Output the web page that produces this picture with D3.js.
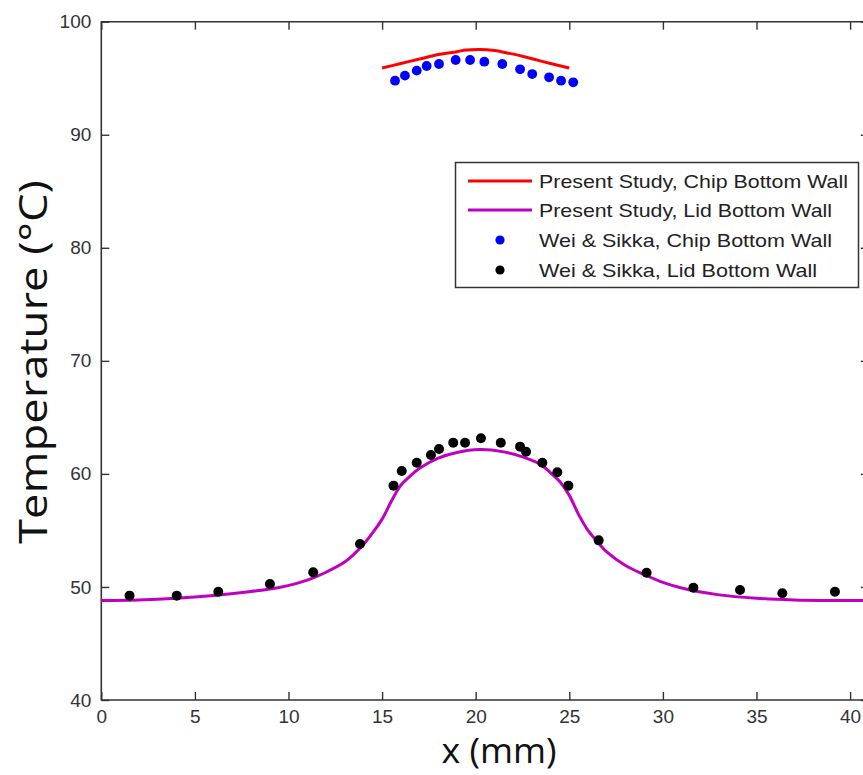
<!DOCTYPE html>
<html><head><meta charset="utf-8">
<script src="https://cdnjs.cloudflare.com/ajax/libs/d3/7.8.5/d3.min.js"></script>
<style>body{margin:0;background:#fff;} svg{display:block;}</style>
</head><body>
<svg id="c" width="863" height="775"></svg>
<script>
// ---- data ----
const xTicks = [0, 5, 10, 15, 20, 25, 30, 35, 40];
const yTicks = [40, 50, 60, 70, 80, 90, 100];

const chipLineX = [15, 16, 17, 18, 19, 19.5, 20.2, 21, 21.8, 22.5, 23.3, 24, 25];
const chipLineT = [95.9, 96.3, 96.7, 97.1, 97.35, 97.5, 97.55, 97.45, 97.2, 96.95, 96.6, 96.3, 95.9];

const lidLineX = [0, 2, 4, 6, 8, 9.5, 11, 12, 13, 13.5, 14, 14.5, 15, 15.5, 16, 16.5, 17, 18, 19, 20.2, 21.5, 22.5, 23.5, 24, 24.5, 25, 25.5, 26, 26.5, 27, 28, 29, 30, 31, 33, 35, 37, 39, 41];
const lidLineT = [48.8, 48.85, 49.0, 49.25, 49.6, 49.95, 50.6, 51.3, 52.2, 52.9, 53.75, 54.8, 56.0, 57.6, 59.0, 59.8, 60.5, 61.4, 61.9, 62.15, 61.95, 61.5, 60.8, 60.1, 59.3, 58.1, 56.4, 55.0, 54.0, 53.1, 51.9, 51.1, 50.4, 49.9, 49.3, 49.0, 48.85, 48.8, 48.8];

const chipPtsX = [15.69, 16.22, 16.85, 17.38, 18.04, 18.93, 19.70, 20.46, 21.42, 22.37, 23.02, 23.92, 24.56, 25.21];
const chipPtsT = [94.78, 95.23, 95.67, 96.08, 96.26, 96.61, 96.61, 96.46, 96.26, 95.79, 95.37, 95.08, 94.78, 94.64];

const lidPtsX = [1.51, 4.03, 6.25, 9.01, 11.32, 13.82, 15.61, 16.05, 16.85, 17.61, 18.04, 18.80, 19.43, 20.28, 21.34, 22.37, 22.69, 23.56, 24.36, 24.95, 26.57, 29.13, 31.63, 34.12, 36.38, 39.19];
const lidPtsT = [49.23, 49.23, 49.58, 50.26, 51.29, 53.80, 58.96, 60.26, 60.99, 61.67, 62.20, 62.76, 62.76, 63.15, 62.76, 62.41, 61.96, 60.99, 60.14, 58.96, 54.12, 51.26, 49.93, 49.73, 49.44, 49.58];

const legendLabels = ["Present Study, Chip Bottom Wall", "Present Study, Lid Bottom Wall", "Wei & Sikka, Chip Bottom Wall", "Wei & Sikka, Lid Bottom Wall"];
const xTitle = "x (mm)";
const yTitle = "Temperature (°C)";

// ---- styles ----
const RED = "#ff0000", MAG = "#c000c0", BLUE = "#0000ff", BLK = "#000000";
const AX = "#333333";

const svg = d3.select("#c");
const x = d3.scaleLinear().domain([0, 41]).range([101.3, 101.3 + 41 * 18.72]);
const y = d3.scaleLinear().domain([40, 100]).range([700, 21.7]);

const tickFont = "'Liberation Sans', Arial, sans-serif";

// axes
const gB = svg.append("g").attr("transform", `translate(0,${y(40)})`)
  .call(d3.axisBottom(x).tickValues(xTicks).tickSizeInner(-8).tickSizeOuter(0).tickPadding(10));
const gT = svg.append("g").attr("transform", `translate(0,${y(100)})`)
  .call(d3.axisTop(x).tickValues(xTicks).tickSizeInner(-8).tickSizeOuter(0).tickFormat(""));
const gL = svg.append("g").attr("transform", `translate(${x(0)},0)`)
  .call(d3.axisLeft(y).tickValues(yTicks).tickSizeInner(-8).tickSizeOuter(0).tickPadding(10));
const gR = svg.append("g").attr("transform", `translate(${x(41)},0)`)
  .call(d3.axisRight(y).tickValues(yTicks).tickSizeInner(-8).tickSizeOuter(0).tickFormat(""));

[gB, gT, gL, gR].forEach(g => {
  g.select(".domain").attr("stroke", AX).attr("stroke-width", 1.6);
  g.selectAll(".tick line").attr("stroke", AX).attr("stroke-width", 1.4);
  g.selectAll(".tick text").attr("fill", "#333").style("font-family", tickFont).style("font-size", "19px");
});
gL.select(".domain").attr("d", `M0,${y(40) + 0.5}V${y(100) - 0.5}`);
gB.select(".domain").attr("d", `M${x(0)},0H${x(41)}`);
gT.select(".domain").attr("d", `M${x(0)},0H${x(41)}`);

// lines
const line = d3.line().x(d => x(d[0])).y(d => y(d[1])).curve(d3.curveCatmullRom.alpha(0.5));
svg.append("path").datum(lidLineX.map((v, i) => [v, lidLineT[i]]))
  .attr("d", line).attr("fill", "none").attr("stroke", MAG).attr("stroke-width", 3);
svg.append("path").datum(chipLineX.map((v, i) => [v, chipLineT[i]]))
  .attr("d", line).attr("fill", "none").attr("stroke", RED).attr("stroke-width", 3);

// points
svg.append("g").selectAll("circle").data(chipPtsX.map((v, i) => [v, chipPtsT[i]]))
  .join("circle").attr("cx", d => x(d[0])).attr("cy", d => y(d[1])).attr("r", 4.9).attr("fill", BLUE);
svg.append("g").selectAll("circle").data(lidPtsX.map((v, i) => [v, lidPtsT[i]]))
  .join("circle").attr("cx", d => x(d[0])).attr("cy", d => y(d[1])).attr("r", 5).attr("fill", BLK);

// legend
const lg = svg.append("g");
lg.append("rect").attr("x", 455.5).attr("y", 162.5).attr("width", 403).attr("height", 125)
  .attr("fill", "#fff").attr("stroke", AX).attr("stroke-width", 1.5);
const rowsY = [181, 210, 240, 270];
const kinds = [["line", RED], ["line", MAG], ["dot", BLUE], ["dot", BLK]];
legendLabels.forEach((t, i) => {
  const [k, c] = kinds[i];
  if (k === "line") {
    lg.append("line").attr("x1", 468).attr("x2", 532).attr("y1", rowsY[i]).attr("y2", rowsY[i])
      .attr("stroke", c).attr("stroke-width", 3);
  } else {
    lg.append("circle").attr("cx", 500).attr("cy", rowsY[i]).attr("r", 4.6).attr("fill", c);
  }
  lg.append("text").attr("x", 539).attr("y", rowsY[i]).attr("dy", "0.36em")
    .attr("textLength", [309, 293, 293, 278][i]).attr("lengthAdjust", "spacingAndGlyphs")
    .style("font-family", tickFont).style("font-size", "19px").attr("fill", "#222").text(t);
});

// titles
svg.append("text").attr("x", 499).attr("y", 763).attr("text-anchor", "middle")
  .attr("textLength", 115).attr("lengthAdjust", "spacingAndGlyphs")
  .style("font-family", "'Open Sans', sans-serif").style("font-size", "35px").attr("fill", "#111").text(xTitle);
svg.append("text").attr("transform", `translate(47,362) rotate(-90)`).attr("text-anchor", "middle")
  .attr("textLength", 364).attr("lengthAdjust", "spacingAndGlyphs")
  .style("font-family", "'Open Sans', sans-serif").style("font-size", "38px").attr("fill", "#111").text(yTitle);
</script>
</body></html>
